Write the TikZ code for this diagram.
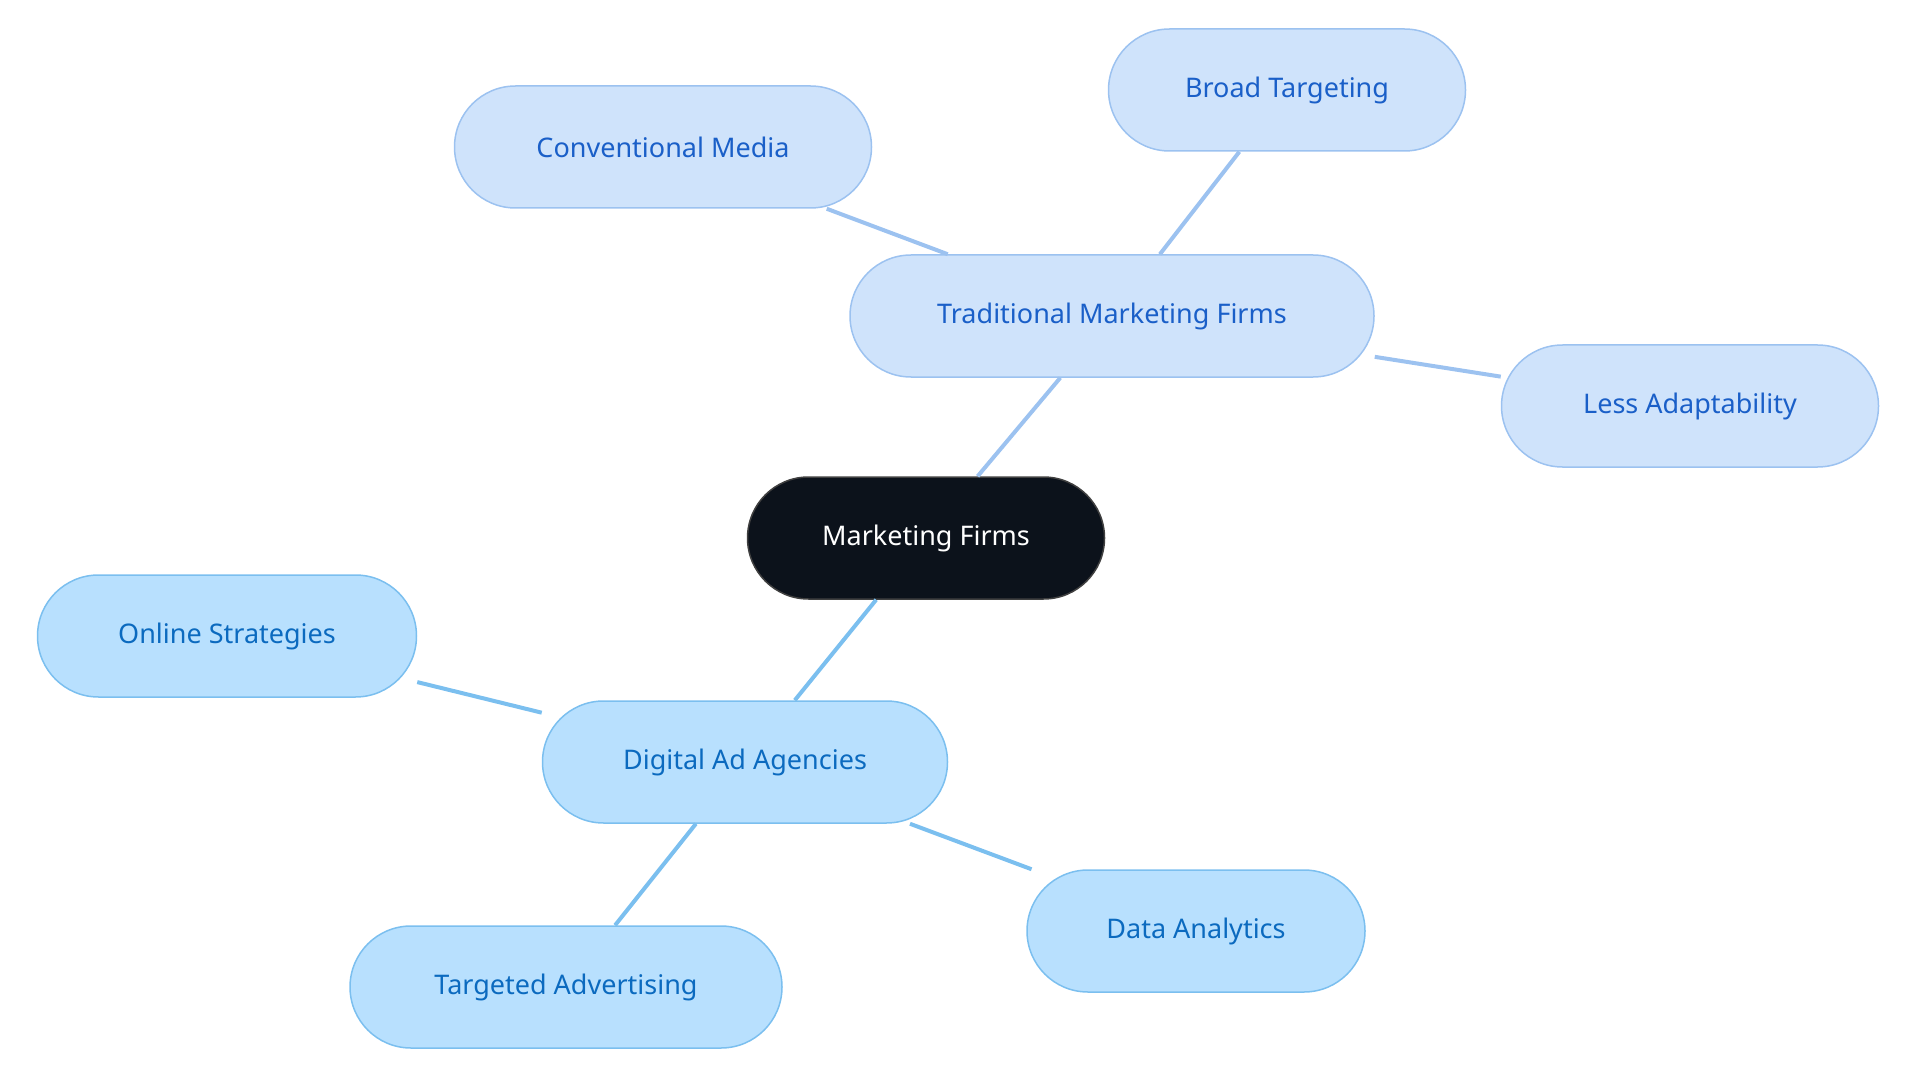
\documentclass[tikz,border=0pt]{standalone}
\usepackage{fontspec}
\setmainfont{Noto Sans}
\definecolor{tfill}{HTML}{CFE3FB}\definecolor{tdraw}{HTML}{9CC2F0}\definecolor{ttext}{HTML}{1A5FC8}
\definecolor{dfill}{HTML}{B8E0FE}\definecolor{ddraw}{HTML}{7BBFEF}\definecolor{dtext}{HTML}{0B6ABF}
\definecolor{root}{HTML}{0C121B}
\begin{document}
\begin{tikzpicture}[x=1pt,y=-1pt,
 base/.style={rounded corners=61pt,minimum height=122pt,line width=1.5pt,font=\fontsize{27}{32}\selectfont,inner sep=0pt},
 tnode/.style={base,fill=tfill,draw=tdraw,text=ttext},
 dnode/.style={base,fill=dfill,draw=ddraw,text=dtext},
 rnode/.style={base,fill=root,draw=black!75,text=white},
 tedge/.style={draw=tdraw,line width=4pt},
 dedge/.style={draw=ddraw,line width=4pt}]
\useasboundingbox (0,0) rectangle (1920,1083);
\node[rnode,minimum width=357pt] (m) at (926,538) {Marketing Firms};
\node[tnode,minimum width=524pt] (t) at (1112,316) {Traditional Marketing Firms};
\node[tnode,minimum width=417pt] (c) at (663,147) {Conventional Media};
\node[tnode,minimum width=357pt] (b) at (1287,90) {Broad Targeting};
\node[tnode,minimum width=377pt] (l) at (1690,406) {Less Adaptability};
\node[dnode,minimum width=405pt] (d) at (745,762) {Digital Ad Agencies};
\node[dnode,minimum width=379pt] (o) at (227,636) {Online Strategies};
\node[dnode,minimum width=432pt] (ta) at (566,987) {Targeted Advertising};
\node[dnode,minimum width=338pt] (da) at (1196,931) {Data Analytics};
\begin{scope}[on background layer/.try]
\end{scope}
\begin{pgfinterruptboundingbox}\end{pgfinterruptboundingbox}
\draw[tedge] (m) -- (t); \draw[tedge] (t) -- (c); \draw[tedge] (t) -- (b); \draw[tedge] (t) -- (l);
\draw[dedge] (m) -- (d); \draw[dedge] (d) -- (o); \draw[dedge] (d) -- (ta); \draw[dedge] (d) -- (da);
\end{tikzpicture}
\end{document}
